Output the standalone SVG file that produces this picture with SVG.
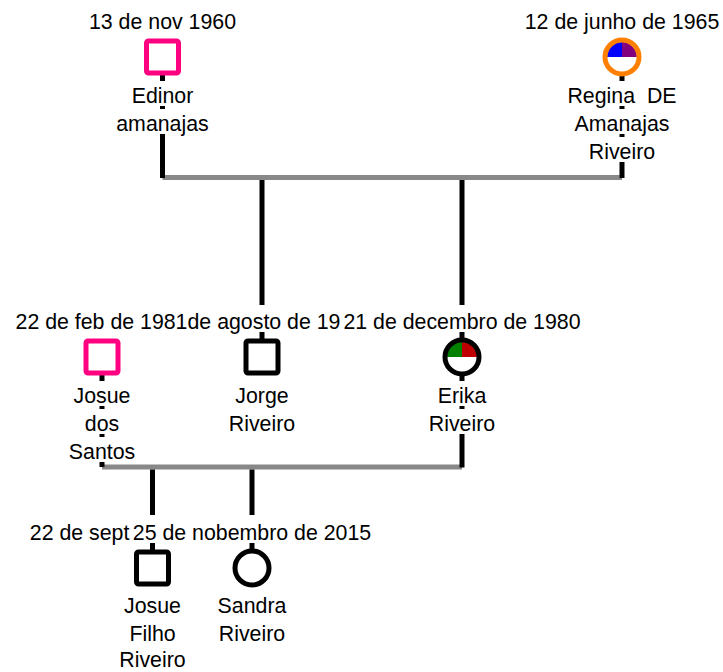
<svg xmlns="http://www.w3.org/2000/svg" width="723" height="672" viewBox="0 0 723 672">
<style>
.t{font-family:"Liberation Sans",Arial,sans-serif;font-size:21.33px;fill:#000}
.m{text-anchor:middle}
.bg{fill:#fff}
.ln{stroke:#000;stroke-width:5;fill:none}
.gl{stroke:#888;stroke-width:5;fill:none}
.sq{fill:#fff;stroke-width:5}
.ring{fill:none;stroke-width:5}
</style>
<rect width="723" height="672" fill="#fff"/>
<g id="connectors">
  <line class="gl" x1="162.5" y1="177.5" x2="622" y2="177.5"/>
  <line class="ln" x1="162.5" y1="75" x2="162.5" y2="178"/>
  <line class="ln" x1="622" y1="75" x2="622" y2="178"/>
  <line class="ln" x1="262" y1="180" x2="262" y2="340"/>
  <line class="ln" x1="462" y1="180" x2="462" y2="340"/>
  <line class="gl" x1="102" y1="467" x2="462" y2="467"/>
  <line class="ln" x1="102" y1="375" x2="102" y2="467"/>
  <line class="ln" x1="462" y1="375" x2="462" y2="467.5"/>
  <line class="ln" x1="152.5" y1="469.5" x2="152.5" y2="551"/>
  <line class="ln" x1="252" y1="469.5" x2="252" y2="551"/>
</g>
<g id="edinor">
  <rect class="bg" x="86" y="5" width="154" height="27"/>
  <text class="t m" x="162.5" y="29">13 de nov 1960</text>
  <rect class="sq" x="146.5" y="41" width="32" height="32" rx="2" stroke="#ff0080"/>
  <rect class="bg" x="128" y="81" width="69" height="25"/>
  <text class="t m" x="162.5" y="102.5">Edinor</text>
  <rect class="bg" x="114" y="109" width="97" height="25"/>
  <text class="t m" x="162.5" y="130.5">amanajas</text>
</g>
<g id="regina">
  <rect class="bg" x="524" y="5" width="196" height="27"/>
  <text class="t m" x="622" y="29">12 de junho de 1965</text>
  <circle cx="622" cy="57" r="17" fill="#fff"/>
  <path d="M622,57 L607,57 A15,15 0 0 1 622,42 Z" fill="#0000ff"/>
  <path d="M622,57 L622,42 A15,15 0 0 1 637,57 Z" fill="#800080"/>
  <circle class="ring" cx="622" cy="57" r="17" stroke="#ff8000"/>
  <rect class="bg" x="566" y="81" width="112" height="25"/>
  <text class="t m" x="622" y="102.5" xml:space="preserve">Regina  DE</text>
  <rect class="bg" x="572" y="109" width="100" height="25"/>
  <text class="t m" x="622" y="130.5">Amanajas</text>
  <rect class="bg" x="586" y="137" width="72" height="25"/>
  <text class="t m" x="622" y="158.5">Riveiro</text>
</g>
<g id="josue">
  <rect class="bg" x="14" y="305" width="174" height="27"/>
  <text class="t m" x="101.5" y="329">22 de feb de 1981</text>
  <rect class="sq" x="86" y="341" width="32" height="32" rx="2" stroke="#ff0080"/>
  <rect class="bg" x="70" y="381" width="64" height="25"/>
  <text class="t m" x="102" y="402.5">Josue</text>
  <rect class="bg" x="80" y="409" width="44" height="25"/>
  <text class="t m" x="102" y="430.5">dos</text>
  <rect class="bg" x="66" y="437" width="72" height="25"/>
  <text class="t m" x="102" y="458.5">Santos</text>
</g>
<g id="jorge">
  <rect class="bg" x="187.5" y="305" width="155" height="27"/>
  <text class="t" x="187.5" y="329">de agosto de 19</text>
  <rect class="sq" x="246" y="341" width="32" height="32" rx="2" stroke="#000"/>
  <rect class="bg" x="232" y="381" width="60" height="25"/>
  <text class="t m" x="262" y="402.5">Jorge</text>
  <rect class="bg" x="226" y="409" width="72" height="25"/>
  <text class="t m" x="262" y="430.5">Riveiro</text>
</g>
<g id="erika">
  <rect class="bg" x="343" y="305" width="238" height="27"/>
  <text class="t m" x="462" y="329">21 de decembro de 1980</text>
  <circle cx="462" cy="357" r="17" fill="#fff"/>
  <path d="M462,357 L447,357 A15,15 0 0 1 462,342 Z" fill="#008000"/>
  <path d="M462,357 L462,342 A15,15 0 0 1 477,357 Z" fill="#c00000"/>
  <circle class="ring" cx="462" cy="357" r="17" stroke="#000"/>
  <rect class="bg" x="434" y="381" width="56" height="25"/>
  <text class="t m" x="462" y="402.5">Erika</text>
  <rect class="bg" x="426" y="409" width="72" height="25"/>
  <text class="t m" x="462" y="430.5">Riveiro</text>
</g>
<g id="josue-filho">
  <rect class="bg" x="29.5" y="515" width="102" height="28"/>
  <text class="t" x="29.8" y="540">22 de sept</text>
  <rect class="sq" x="136.5" y="552" width="32" height="32" rx="2" stroke="#000"/>
  <rect class="bg" x="120" y="592" width="65" height="25"/>
  <text class="t m" x="152.5" y="613">Josue</text>
  <rect class="bg" x="124" y="620" width="57" height="25"/>
  <text class="t m" x="152.5" y="640.5">Filho</text>
  <rect class="bg" x="116" y="647" width="73" height="25"/>
  <text class="t m" x="152.5" y="667">Riveiro</text>
</g>
<g id="sandra">
  <rect class="bg" x="132.5" y="515" width="240" height="28"/>
  <text class="t m" x="252" y="540">25 de nobembro de 2015</text>
  <circle cx="252" cy="568" r="17" fill="#fff" stroke="#000" stroke-width="5"/>
  <rect class="bg" x="214" y="592" width="76" height="25"/>
  <text class="t m" x="252" y="613">Sandra</text>
  <rect class="bg" x="216" y="620" width="72" height="25"/>
  <text class="t m" x="252" y="640.5">Riveiro</text>
</g>
</svg>
